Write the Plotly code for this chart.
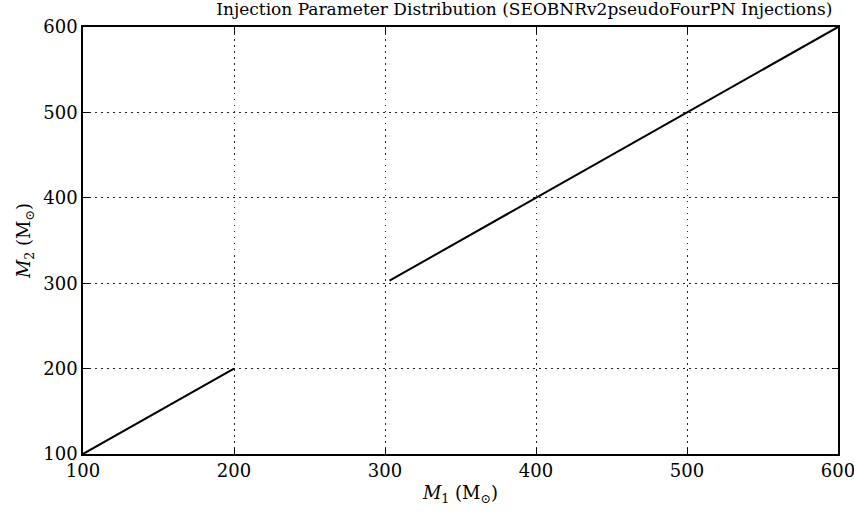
import plotly.graph_objects as go

# Data
seg1_m1 = [100, 200]
seg1_m2 = [100, 200]
seg2_m1 = [303, 600]
seg2_m2 = [303, 600]
x_ticks = [100, 200, 300, 400, 500, 600]
y_ticks = [100, 200, 300, 400, 500, 600]

FONT = "DejaVu Serif"

fig = go.Figure()
fig.add_trace(go.Scatter(x=seg1_m1 + [None] + seg2_m1, y=seg1_m2 + [None] + seg2_m2,
                         mode="lines", line=dict(color="black", width=2),
                         connectgaps=False, showlegend=False, hoverinfo="skip"))

axis_common = dict(
    showline=True, linecolor="black", linewidth=1.5, mirror="ticks",
    ticks="inside", ticklen=6, tickwidth=1, tickcolor="black",
    showgrid=True, gridcolor="#222222", griddash="1.5px,4.5px", gridwidth=1,
    zeroline=False, automargin=False, ticklabeloverflow="allow",
    tickfont=dict(family=FONT, size=18, color="black"),
)

fig.update_layout(
    width=854, height=518,
    margin=dict(l=83, r=16, t=27, b=64),
    paper_bgcolor="white", plot_bgcolor="white",
    title=dict(text="Injection Parameter Distribution (SEOBNRv2pseudoFourPN Injections)",
               font=dict(family=FONT, size=17, color="black"),
               x=0.614, xref="container", xanchor="center", y=1, yref="container", yanchor="top", pad=dict(t=3)),
    xaxis=dict(range=[100, 600], tickvals=x_ticks,
               title=dict(text="<i>M</i><sub>1</sub> (M<sub>⊙</sub>)", font=dict(family=FONT, size=18, color="black"), standoff=6),
               **axis_common),
    yaxis=dict(range=[100, 600], tickvals=y_ticks,
               title=dict(text="<i>M</i><sub>2</sub> (M<sub>⊙</sub>)", font=dict(family=FONT, size=18, color="black"), standoff=8),
               **axis_common),
)

fig.write_html("out.html", config={"displayModeBar": False},
               post_script="document.body.style.margin='0';")
